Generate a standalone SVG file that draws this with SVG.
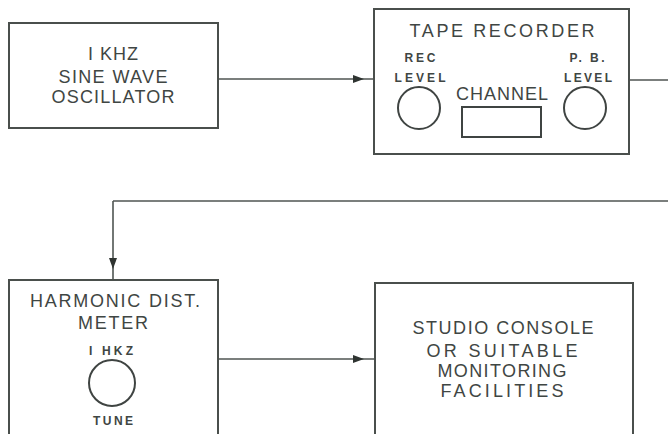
<svg xmlns="http://www.w3.org/2000/svg" width="668" height="434" viewBox="0 0 668 434">
<defs>
<style>
.box{fill:none;stroke:#4a4f4c;stroke-width:2}
.knob{fill:none;stroke:#3f4442;stroke-width:2}
.wire{fill:none;stroke:#4f5552;stroke-width:1.6}
.t{font-family:"Liberation Sans",Arial,sans-serif;fill:#3f4643;text-anchor:middle;font-size:18px}
.s{font-family:"Liberation Sans",Arial,sans-serif;fill:#3f4643;text-anchor:middle;font-size:12px;font-weight:bold}
</style>
<marker id="arr" markerUnits="userSpaceOnUse" markerWidth="11" markerHeight="8" refX="11" refY="4" orient="auto">
<path d="M0,0 L11,4 L0,8 z" fill="#2f3431"/>
</marker>
</defs>
<rect width="668" height="434" fill="#ffffff"/>

<g id="connectors">
<path class="wire" d="M218,79 L364,79 L374,79" marker-mid="url(#arr)"/>
<path class="wire" d="M629,80 L668,80"/>
<path class="wire" d="M668,201 L113,201"/>
<path class="wire" d="M113,201 L113,269 L113,280" marker-mid="url(#arr)"/>
<path class="wire" d="M218,359 L364,359 L375,359" marker-mid="url(#arr)"/>
</g>

<g id="oscillator">
<rect class="box" x="9" y="23" width="209" height="105"/>
<text class="t" x="113" y="60" textLength="50" lengthAdjust="spacing">I KHZ</text>
<text class="t" x="113" y="83" textLength="109" lengthAdjust="spacing">SINE WAVE</text>
<text class="t" x="113" y="103" textLength="123" lengthAdjust="spacing">OSCILLATOR</text>
</g>

<g id="tape-recorder">
<rect class="box" x="374" y="9" width="255" height="145"/>
<text class="t" x="502" y="37" textLength="185" lengthAdjust="spacing">TAPE RECORDER</text>
<text class="s" x="420" y="62" textLength="31" lengthAdjust="spacing">REC</text>
<text class="s" x="420" y="82" textLength="51" lengthAdjust="spacing">LEVEL</text>
<circle class="knob" cx="419" cy="108" r="21"/>
<text class="t" x="502" y="100" textLength="92" lengthAdjust="spacing">CHANNEL</text>
<rect class="knob" x="462" y="107" width="79" height="30"/>
<text class="s" x="587" y="62" textLength="35" lengthAdjust="spacing">P. B.</text>
<text class="s" x="588" y="82" textLength="48" lengthAdjust="spacing">LEVEL</text>
<circle class="knob" cx="585" cy="108" r="21"/>
</g>

<g id="harmonic-meter">
<rect class="box" x="9" y="280" width="209" height="170"/>
<text class="t" x="115" y="307" textLength="170" lengthAdjust="spacing">HARMONIC DIST.</text>
<text class="t" x="113" y="329" textLength="70" lengthAdjust="spacing">METER</text>
<text class="s" x="111" y="355" textLength="44" lengthAdjust="spacing">I HKZ</text>
<circle class="knob" cx="112" cy="383" r="23"/>
<text class="s" x="113" y="425" textLength="40" lengthAdjust="spacing">TUNE</text>
</g>

<g id="studio-console">
<rect class="box" x="375" y="283" width="258" height="170"/>
<text class="t" x="503" y="334" textLength="181" lengthAdjust="spacing">STUDIO CONSOLE</text>
<text class="t" x="502" y="357" textLength="151" lengthAdjust="spacing">OR SUITABLE</text>
<text class="t" x="502" y="377" textLength="129" lengthAdjust="spacing">MONITORING</text>
<text class="t" x="502" y="397" textLength="123" lengthAdjust="spacing">FACILITIES</text>
</g>
</svg>
